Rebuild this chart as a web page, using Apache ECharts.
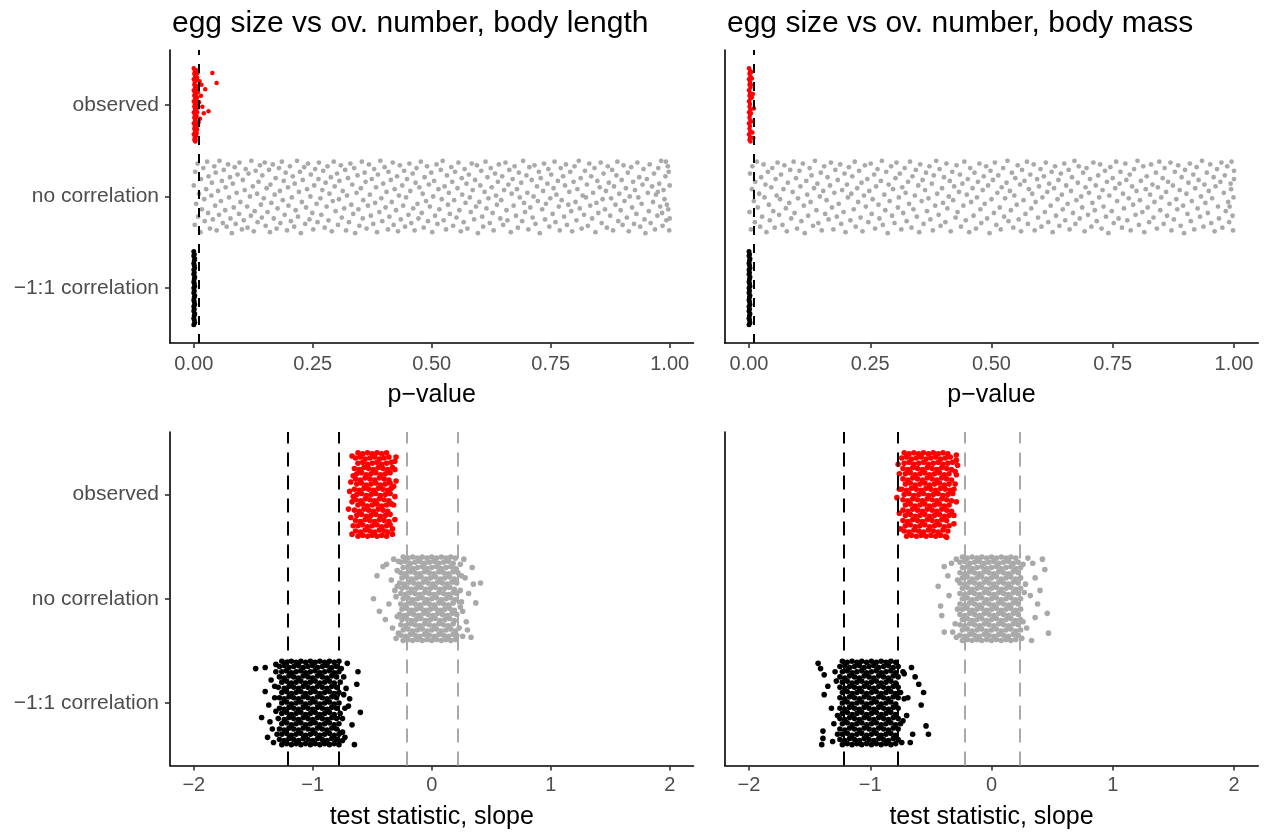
<!DOCTYPE html>
<html><head><meta charset="utf-8">
<script src="https://cdn.jsdelivr.net/npm/echarts@6/dist/echarts.min.js"></script>
<style>html,body{margin:0;padding:0;background:#fff}#c{width:1265px;height:833px}</style>
</head><body><div id="c"></div>
<script>
// ---- categories / ticks / reference lines ----
const yCats = {1: '\u22121:1 correlation', 2: 'no correlation', 3: 'observed'};
const catObs = 3, catNull = 2, catNeg = 1;
const pTicks = [0, 0.25, 0.5, 0.75, 1];
const slopeTicks = [-2, -1, 0, 1, 2];
const pThreshold = 0.0125;
const lenNullCrit = [-0.214, 0.220];
const lenNegCrit = [-1.211, -0.779];
const massNullCrit = [-0.224, 0.229];
const massNegCrit = [-1.222, -0.769];
const titles = ['egg size vs ov. number, body length', 'egg size vs ov. number, body mass'];

// ---- data: pairs [value, jitter]; p-values in thousandths, slopes & jitter in hundredths ----
const lenPObs = [0,40,2,37,1,34,3,31,0,28,2,25,1,22,3,19,0,16,2,13,1,10,3,7,0,4,2,1,1,-2,3,-5,0,-8,2,-11,1,-14,3,-17,0,-20,2,-23,1,-26,3,-29,0,-32,2,-35,1,-38,3,-40,
5,38,7,30,6,21,9,14,5,6,8,-3,6,-12,10,-19,7,-27,5,-34,12,26,11,3,9,-22,13,-15,15,10,8,35,18,-2,39,35,48,24,31,-7,24,17,21,-9,16,22,
4,33,6,27,4,18,7,8,5,-1,4,-15,6,-24,4,-38,7,-8,5,12,6,-31,3,20,5,29,4,-6,6,2,5,-20,4,-28,7,16];
const lenPNeg = [0,40,1,37,0,35,2,32,1,30,0,27,1,25,2,22,0,20,1,17,0,15,2,12,1,10,0,7,1,5,2,2,0,0,1,-3,0,-5,2,-8,1,-10,0,-13,1,-15,2,-18,0,-20,1,-23,0,-25,2,-28,1,-30,0,-33,1,-35,2,-38,0,-40];
const lenPNull = [0,12,2,-31,3,27,5,-8,8,36,9,-22,11,3,14,-39,15,19,17,-14,
20,31,22,-3,23,-27,26,8,28,38,30,-18,31,22,34,-35,37,1,38,15,
40,-25,43,33,45,-10,46,26,48,-37,51,6,53,-20,54,39,57,-5,59,17,
61,-29,63,29,66,-15,67,10,69,-33,72,35,74,-1,76,21,77,-24,80,-40,
82,14,84,-12,86,32,88,-30,90,4,92,24,95,-19,96,37,98,-6,101,-36,
103,18,105,-26,107,7,109,30,112,-11,113,-34,115,25,118,0,120,-21,121,39,
124,11,126,-38,128,-16,130,28,133,3,134,-28,136,16,139,34,141,-9,143,-23,
144,23,147,-2,149,37,151,-32,153,9,155,-17,158,29,160,-39,161,13,163,-7,
166,35,168,-24,170,2,172,20,174,-35,176,-13,179,31,181,6,182,-29,185,38,
187,-4,189,17,191,-20,193,26,196,-37,198,10,199,-10,202,33,204,-27,206,-1,
208,22,211,-33,212,14,214,-15,217,39,219,-22,221,5,223,27,225,-40,227,-6,
229,18,232,32,234,-30,236,-12,238,8,240,36,243,-25,245,0,246,24,249,-18,
251,-36,253,12,255,30,258,-8,260,-28,262,19,263,37,266,-2,268,-20,270,7,
272,28,275,-34,277,15,279,-11,281,33,283,-26,285,3,288,21,290,-38,292,-5,
294,38,296,11,298,-16,301,25,303,-31,305,-3,306,17,309,34,311,-23,313,6,
316,-13,318,29,320,-37,322,1,324,20,326,-28,329,36,331,-9,333,13,335,-19,
337,31,339,-40,342,4,344,23,346,-14,348,-32,351,9,353,38,355,-24,356,-4,
359,26,361,16,363,-35,366,-10,368,35,370,2,372,-21,374,19,377,-30,379,30,
381,-7,383,10,385,-39,387,24,390,-17,392,39,394,-2,396,-27,398,14,401,32,
403,-12,405,5,408,-36,409,27,411,-22,414,18,416,-6,418,37,420,-31,422,8,
425,-15,427,22,429,-38,431,1,433,34,435,-25,438,12,440,-10,442,28,444,-33,
446,-1,448,19,451,-20,453,36,455,6,457,-29,460,25,461,-13,464,-37,466,15,
468,31,470,-8,472,-24,474,10,477,38,479,-18,481,3,483,-34,485,21,488,-5,
490,33,492,-27,494,13,496,-11,499,26,501,-39,503,0,505,17,507,-21,510,35,
512,-30,514,8,516,-14,519,29,521,-3,523,39,525,-26,527,11,530,-36,532,23,
534,-9,536,4,538,-19,541,32,543,16,545,-32,547,-4,549,27,552,-23,554,9,
556,37,558,-15,561,-38,563,20,564,2,567,-28,569,30,571,-7,573,14,575,-35,
578,24,580,-1,582,-17,584,36,586,7,589,-25,591,18,593,-11,595,34,597,-40,
600,-6,602,12,604,28,606,-22,608,-33,611,5,613,38,615,-13,617,21,619,-2,
622,-29,624,31,626,10,628,-18,630,-37,633,25,635,1,637,-9,639,16,641,35,
644,-24,646,-4,648,22,650,-31,652,7,655,37,657,-15,659,-26,661,13,663,29,
666,-39,668,3,670,19,672,-10,674,33,677,-21,679,8,681,-34,683,26,685,-1,
688,15,690,-27,692,39,694,-7,696,-17,699,23,701,4,703,-36,705,32,707,-12,
710,18,712,-23,714,0,716,34,718,-30,721,11,723,-5,725,27,727,-40,729,20,
732,-14,734,6,736,36,738,-25,740,-8,743,14,745,30,747,-33,749,-2,751,24,
754,-19,756,9,758,38,760,-28,762,2,765,17,767,-11,769,-37,771,31,773,-4,
776,22,778,-22,780,12,782,35,784,-31,787,-9,789,5,791,27,793,-16,795,-38,
798,16,800,33,802,-6,804,-26,806,8,809,39,811,-13,813,20,815,-35,817,1,
820,-20,822,28,824,-1,826,13,828,-32,831,36,833,-10,835,22,837,-24,839,4,
842,31,844,-39,846,-7,848,17,850,-18,853,10,855,37,857,-29,859,-3,861,25,
864,-14,866,6,868,-34,870,33,872,15,875,-21,877,-2,879,29,881,-37,883,11,
886,-9,888,23,890,38,892,-27,894,3,897,-15,899,18,901,-31,903,34,905,-5,
908,9,910,-23,912,26,914,-38,916,0,919,32,921,-12,923,16,925,-30,927,7,
930,-19,932,37,934,-1,936,21,938,-33,941,-8,943,13,945,30,947,-25,949,-40,
952,19,954,4,956,-16,958,35,960,-29,963,11,965,-6,967,25,969,-36,971,2,
974,-21,976,31,978,14,980,-11,982,39,985,-32,987,7,989,-3,991,22,993,-26,
996,33,997,-14,999,-37,1000,12,998,27,994,-9,1000,-24,992,38,984,-18,975,5];

const massPObs = [0,40,2,37,1,34,3,31,0,28,2,25,1,22,3,19,0,16,2,13,1,10,3,7,0,4,2,1,1,-2,3,-5,0,-8,2,-11,1,-14,3,-17,0,-20,2,-23,1,-26,3,-29,0,-32,2,-35,1,-38,3,-40,
5,36,4,22,6,8,10,-4,5,-18,9,-36,7,-30,4,-9,6,29,8,12];
const massPNeg = [0,40,1,37,0,35,2,32,1,30,0,27,1,25,2,22,0,20,1,17,0,15,2,12,1,10,0,7,1,5,2,2,0,0,1,-3,0,-5,2,-8,1,-10,0,-13,1,-15,2,-18,0,-20,1,-23,0,-25,2,-28,1,-30,0,-33,1,-35,2,-38,0,-40];
const massPNull = [1,-17,2,25,4,-36,6,8,7,33,10,-5,12,-28,13,16,16,38,18,-12,
21,3,23,-33,25,21,27,-22,30,35,32,-1,34,13,36,-39,39,27,41,-9,
43,-26,46,10,48,31,50,-16,53,-34,55,19,57,1,59,37,62,-20,64,-3,
66,24,69,-31,71,8,73,34,76,-13,78,-38,80,15,83,-7,85,29,87,-24,
90,5,92,38,94,-18,97,20,99,-35,101,-2,104,28,106,11,108,-27,111,36,
113,-10,115,-40,118,17,120,2,122,-21,125,31,127,-6,129,23,132,-32,134,9,
136,39,139,-15,141,14,143,-29,146,0,148,26,150,-37,153,6,155,33,157,-19,
160,-4,162,21,164,-25,167,12,169,37,171,-12,174,-36,176,4,178,29,181,-22,
183,18,185,-8,188,35,190,-30,192,7,195,-17,197,25,199,-39,202,13,204,-1,
206,32,209,-26,211,3,213,22,216,-14,218,38,220,-33,223,9,225,-6,227,28,
230,-23,232,15,234,-38,237,1,239,34,241,-11,244,19,246,-28,248,6,251,36,
253,-19,255,-3,258,24,260,-35,262,11,265,30,267,-9,269,-24,272,17,274,39,
276,-31,279,2,281,-15,283,27,286,-40,288,13,290,-5,293,33,295,-21,297,8,
300,-29,302,20,304,37,307,-12,309,-1,311,25,314,-36,316,10,318,-18,321,31,
323,4,325,-27,328,16,330,-8,332,38,335,-34,337,22,339,-14,342,1,344,29,
346,-22,349,12,351,-39,353,35,356,-5,358,18,360,-30,363,7,365,26,367,-16,
370,-2,372,33,374,-25,377,14,379,-37,381,23,384,-10,386,39,388,3,391,-20,
393,30,395,-32,398,9,400,-7,402,21,405,-28,407,36,409,-13,412,0,414,17,
416,-38,419,27,421,-4,423,11,426,-23,428,34,430,-17,433,5,435,24,437,-33,
440,14,442,-10,444,38,447,-26,449,2,451,19,454,-39,456,31,458,-6,461,9,
463,-21,465,26,468,-35,470,-1,472,16,475,36,477,-14,479,-29,482,7,484,22,
486,-8,489,33,491,-24,493,12,496,-40,498,28,500,-3,503,18,505,-18,507,37,
510,-31,512,4,514,23,517,-12,519,-36,521,10,524,31,526,-22,528,-2,531,15,
533,39,535,-27,538,6,540,-15,542,26,545,-34,547,1,549,20,552,-9,554,34,
556,-25,559,13,561,-38,563,29,566,-4,568,17,570,-19,573,38,575,-30,577,8,
580,24,582,-13,584,3,587,35,589,-37,591,-6,594,19,596,-23,598,11,601,30,
603,-33,605,-1,608,22,610,-17,612,37,615,5,617,-28,619,14,622,-10,624,27,
626,-39,629,9,631,33,633,-21,636,-3,638,18,640,-32,643,25,645,2,647,-14,
650,36,652,-26,654,12,657,-8,659,29,661,-36,664,6,666,21,668,-18,671,39,
673,-30,675,-4,678,15,680,33,682,-24,685,0,687,-12,689,26,692,-38,694,10,
696,31,699,-20,701,4,703,19,706,-33,708,-7,710,37,713,-15,715,12,717,-27,
720,23,722,-1,724,35,727,-35,729,7,731,-11,734,28,736,-22,738,16,741,-40,
743,1,745,32,748,-16,750,20,752,-29,755,9,757,38,759,-5,762,-24,764,14,
766,27,769,-34,771,3,773,-13,776,36,778,18,780,-26,783,-2,785,24,787,-37,
790,11,792,-9,794,30,797,-20,799,6,801,39,804,-31,806,-4,808,17,811,-17,
813,33,815,-39,818,8,820,22,822,-12,825,-28,827,2,829,35,832,13,834,-23,
836,-6,839,26,841,-35,843,10,846,38,848,-15,850,-1,853,20,855,-30,857,31,
860,5,862,-21,864,16,867,-8,869,37,871,-37,874,12,876,-25,878,27,881,-3,
883,-14,885,34,888,7,890,-32,892,21,895,-10,897,-40,899,29,902,3,904,-19,
906,15,909,36,911,-27,913,-5,916,24,918,-36,920,9,923,32,925,-13,927,18,
930,-22,932,0,934,39,937,-33,939,13,941,-7,944,26,946,-18,948,6,951,35,
953,-29,955,-2,958,21,960,-38,962,11,965,30,967,-11,969,-24,972,16,974,37,
976,-34,979,4,981,23,983,-16,986,33,988,-6,990,-28,993,14,995,38,997,-21,
999,-1,1000,28,998,-37,994,8,1000,19,991,-11];

const lenSObs = [-62,40,-58,39,-54,40,-50,39,-46,40,-42,39,-38,40,
-64,35,-60,36,-56,34,-52,35,-48,36,-44,34,-40,35,-36,36,
-62,30,-58,31,-54,29,-50,30,-46,31,-42,29,-38,30,-34,31,
-65,25,-61,24,-57,26,-53,25,-49,24,-45,26,-41,25,-37,24,-33,26,
-63,20,-59,21,-55,19,-51,20,-47,21,-43,19,-39,20,-35,21,
-64,15,-60,14,-56,16,-52,15,-48,14,-44,16,-40,15,-36,14,
-63,10,-59,11,-55,9,-51,10,-47,11,-43,9,-39,10,-35,11,
-65,5,-61,4,-57,6,-53,5,-49,4,-45,6,-41,5,-37,4,-34,6,
-63,0,-59,1,-55,-1,-51,0,-47,1,-43,-1,-39,0,-35,1,
-64,-5,-60,-6,-56,-4,-52,-5,-48,-6,-44,-4,-40,-5,-36,-6,
-62,-10,-58,-9,-54,-11,-50,-10,-46,-9,-42,-11,-38,-10,-34,-9,
-65,-15,-61,-16,-57,-14,-53,-15,-49,-16,-45,-14,-41,-15,-37,-16,
-63,-20,-59,-19,-55,-21,-51,-20,-47,-19,-43,-21,-39,-20,-35,-19,
-64,-25,-60,-26,-56,-24,-52,-25,-48,-26,-44,-24,-40,-25,-36,-26,
-62,-30,-58,-29,-54,-31,-50,-30,-46,-29,-42,-31,-38,-30,-35,-29,
-64,-35,-60,-36,-56,-34,-52,-35,-48,-36,-44,-34,-40,-35,-37,-36,
-62,-40,-58,-39,-54,-40,-50,-39,-46,-40,-42,-39,-38,-40,
-70,-14,-69,3,-67,-7,-68,12,-66,-30,-31,24,-30,13,-32,-10,-31,32,-33,-33,
-67,37,-68,-22,-66,18,-67,-38,-31,-2,-31,-24,-30,36,-32,8,-66,-2,-33,-38];
const lenSNull = [-24,40,-20,39,-16,40,-12,39,-8,40,-4,39,0,40,4,39,8,40,12,39,16,40,20,39,
-26,35,-22,36,-18,34,-14,35,-10,36,-6,34,-2,35,2,36,6,34,10,35,14,36,18,34,
-24,30,-20,31,-16,29,-12,30,-8,31,-4,29,0,30,4,31,8,29,12,30,16,31,20,29,
-26,25,-22,24,-18,26,-14,25,-10,24,-6,26,-2,25,2,24,6,26,10,25,14,24,18,26,22,25,
-25,20,-21,21,-17,19,-13,20,-9,21,-5,19,-1,20,3,21,7,19,11,20,15,21,19,19,
-27,15,-23,14,-19,16,-15,15,-11,14,-7,16,-3,15,1,14,5,16,9,15,13,14,17,16,21,15,
-25,10,-21,11,-17,9,-13,10,-9,11,-5,9,-1,10,3,11,7,9,11,10,15,11,19,9,
-26,5,-22,4,-18,6,-14,5,-10,4,-6,6,-2,5,2,4,6,6,10,5,14,4,18,6,21,5,
-24,0,-20,1,-16,-1,-12,0,-8,1,-4,-1,0,0,4,1,8,-1,12,0,16,1,20,-1,
-26,-5,-22,-6,-18,-4,-14,-5,-10,-6,-6,-4,-2,-5,2,-6,6,-4,10,-5,14,-6,18,-4,
-25,-10,-21,-9,-17,-11,-13,-10,-9,-9,-5,-11,-1,-10,3,-9,7,-11,11,-10,15,-9,19,-11,
-27,-15,-23,-16,-19,-14,-15,-15,-11,-16,-7,-14,-3,-15,1,-16,5,-14,9,-15,13,-16,17,-14,21,-15,
-25,-20,-21,-19,-17,-21,-13,-20,-9,-19,-5,-21,-1,-20,3,-19,7,-21,11,-20,15,-19,19,-21,
-26,-25,-22,-26,-18,-24,-14,-25,-10,-26,-6,-24,-2,-25,2,-26,6,-24,10,-25,14,-26,18,-24,
-24,-30,-20,-29,-16,-31,-12,-30,-8,-29,-4,-31,0,-30,4,-29,8,-31,12,-30,16,-29,20,-31,
-26,-35,-22,-36,-18,-34,-14,-35,-10,-36,-6,-34,-2,-35,2,-36,6,-34,10,-35,14,-36,18,-34,21,-35,
-24,-40,-20,-39,-16,-40,-12,-39,-8,-40,-4,-39,0,-40,4,-39,8,-40,12,-39,16,-40,20,-39,
-49,0,-46,22,-41,31,-38,33,-36,-5,-34,18,-33,-28,-31,8,-30,-38,-29,27,-44,-12,-39,-20,-32,38,
24,33,26,-12,28,20,30,-30,31,5,33,-37,35,14,37,-4,41,15,27,38,29,-22,25,-3,34,30,
-29,12,-28,-33,-30,2,-29,-17,24,-8,23,-28,25,22,24,8,26,-36,-28,36];
const lenSNeg = [-126,40,-122,39,-118,40,-114,39,-110,40,-106,39,-102,40,-98,39,-94,40,-90,39,-86,40,-82,39,-78,40,
-128,35,-124,36,-120,34,-116,35,-112,36,-108,34,-104,35,-100,36,-96,34,-92,35,-88,36,-84,34,-80,35,
-126,30,-122,31,-118,29,-114,30,-110,31,-106,29,-102,30,-98,31,-94,29,-90,30,-86,31,-82,29,-78,30,
-128,25,-124,24,-120,26,-116,25,-112,24,-108,26,-104,25,-100,24,-96,26,-92,25,-88,24,-84,26,-80,25,
-126,20,-122,21,-118,19,-114,20,-110,21,-106,19,-102,20,-98,21,-94,19,-90,20,-86,21,-82,19,-77,20,
-129,15,-124,14,-120,16,-116,15,-112,14,-108,16,-104,15,-100,14,-96,16,-92,15,-88,14,-84,16,-80,15,
-126,10,-122,11,-118,9,-114,10,-110,11,-106,9,-102,10,-98,11,-94,9,-90,10,-86,11,-82,9,-78,10,
-128,5,-124,4,-120,6,-116,5,-112,4,-108,6,-104,5,-100,4,-96,6,-92,5,-88,4,-84,6,-80,5,
-126,0,-122,1,-118,-1,-114,0,-110,1,-106,-1,-102,0,-98,1,-94,-1,-90,0,-86,1,-82,-1,-78,0,
-128,-5,-124,-6,-120,-4,-116,-5,-112,-6,-108,-4,-104,-5,-100,-6,-96,-4,-92,-5,-88,-6,-84,-4,-80,-5,
-126,-10,-122,-9,-118,-11,-114,-10,-110,-9,-106,-11,-102,-10,-98,-9,-94,-11,-90,-10,-86,-9,-82,-11,-77,-10,
-129,-15,-124,-16,-120,-14,-116,-15,-112,-16,-108,-14,-104,-15,-100,-16,-96,-14,-92,-15,-88,-16,-84,-14,-80,-15,
-126,-20,-122,-19,-118,-21,-114,-20,-110,-19,-106,-21,-102,-20,-98,-19,-94,-21,-90,-20,-86,-19,-82,-21,-78,-20,
-128,-25,-124,-26,-120,-24,-116,-25,-112,-26,-108,-24,-104,-25,-100,-26,-96,-24,-92,-25,-88,-26,-84,-24,-80,-25,
-126,-30,-122,-29,-118,-31,-114,-30,-110,-29,-106,-31,-102,-30,-98,-29,-94,-31,-90,-30,-86,-29,-82,-31,-78,-30,
-128,-35,-124,-36,-120,-34,-116,-35,-112,-36,-108,-34,-104,-35,-100,-36,-96,-34,-92,-35,-88,-36,-84,-34,-80,-35,
-126,-40,-122,-39,-118,-40,-114,-39,-110,-40,-106,-39,-102,-40,-98,-39,-94,-40,-90,-39,-86,-40,-82,-39,-78,-40,
-148,33,-140,34,-140,11,-137,-2,-135,22,-134,-25,-138,-33,-132,5,-133,-38,-131,30,-143,-14,-136,-18,
-71,38,-62,30,-60,-9,-65,-40,-67,-21,-72,14,-70,-3,-74,25,-73,-33,-69,4,-75,-28,-63,18,
-131,-8,-132,16,-130,-30,-131,37,-75,-15,-74,8,-76,33,-75,-36,-73,-5];

const massSObs = [-72,40,-68,39,-64,40,-60,39,-56,40,-52,39,-48,40,-44,39,-40,40,-36,39,
-74,35,-70,36,-66,34,-62,35,-58,36,-54,34,-50,35,-46,36,-42,34,-38,35,-34,36,
-72,30,-68,31,-64,29,-60,30,-56,31,-52,29,-48,30,-44,31,-40,29,-36,30,-32,31,
-73,25,-69,24,-65,26,-61,25,-57,24,-53,26,-49,25,-45,24,-41,26,-37,25,-33,24,
-71,20,-67,21,-63,19,-59,20,-55,21,-51,19,-47,20,-43,21,-39,19,-35,20,
-73,15,-69,14,-65,16,-61,15,-57,14,-53,16,-49,15,-45,14,-41,16,-37,15,-33,14,
-71,10,-67,11,-63,9,-59,10,-55,11,-51,9,-47,10,-43,11,-39,9,-35,10,
-74,5,-70,4,-66,6,-62,5,-58,4,-54,6,-50,5,-46,4,-42,6,-38,5,-34,4,
-72,0,-68,1,-64,-1,-60,0,-56,1,-52,-1,-48,0,-44,1,-40,-1,-36,0,-32,1,
-73,-5,-69,-6,-65,-4,-61,-5,-57,-6,-53,-4,-49,-5,-45,-6,-41,-4,-37,-5,-33,-6,
-71,-10,-67,-9,-63,-11,-59,-10,-55,-9,-51,-11,-47,-10,-43,-9,-39,-11,-35,-10,
-73,-15,-69,-16,-65,-14,-61,-15,-57,-16,-53,-14,-49,-15,-45,-16,-41,-14,-37,-15,-33,-16,
-71,-20,-67,-19,-63,-21,-59,-20,-55,-19,-51,-21,-47,-20,-43,-19,-39,-21,-35,-20,
-73,-25,-69,-26,-65,-24,-61,-25,-57,-26,-53,-24,-49,-25,-45,-26,-41,-24,-37,-25,
-71,-30,-67,-29,-63,-31,-59,-30,-55,-29,-51,-31,-47,-30,-43,-29,-39,-31,-35,-30,
-72,-35,-68,-36,-64,-34,-60,-35,-56,-36,-52,-34,-48,-35,-44,-36,-40,-34,-36,-35,
-70,-40,-66,-39,-62,-40,-58,-39,-54,-40,-50,-39,-46,-40,-42,-39,-38,-40,
-77,29,-76,5,-78,-3,-29,38,-28,28,-29,19,-29,-7,-30,10,-31,-28,-37,-41,-29,33,
-76,-18,-76,20,-75,-33,-31,-20,-31,5,-30,22];
const massSNull = [-24,40,-20,39,-16,40,-12,39,-8,40,-4,39,0,40,4,39,8,40,12,39,16,40,20,39,
-26,35,-22,36,-18,34,-14,35,-10,36,-6,34,-2,35,2,36,6,34,10,35,14,36,18,34,22,35,
-24,30,-20,31,-16,29,-12,30,-8,31,-4,29,0,30,4,31,8,29,12,30,16,31,20,29,24,30,
-26,25,-22,24,-18,26,-14,25,-10,24,-6,26,-2,25,2,24,6,26,10,25,14,24,18,26,22,25,
-24,20,-20,21,-16,19,-12,20,-8,21,-4,19,0,20,4,21,8,19,12,20,16,21,20,19,24,20,
-26,15,-22,14,-18,16,-14,15,-10,14,-6,16,-2,15,2,14,6,16,10,15,14,14,18,16,22,15,
-24,10,-20,11,-16,9,-12,10,-8,11,-4,9,0,10,4,11,8,9,12,10,16,11,20,9,24,10,
-26,5,-22,4,-18,6,-14,5,-10,4,-6,6,-2,5,2,4,6,6,10,5,14,4,18,6,22,5,
-24,0,-20,1,-16,-1,-12,0,-8,1,-4,-1,0,0,4,1,8,-1,12,0,16,1,20,-1,24,0,
-26,-5,-22,-6,-18,-4,-14,-5,-10,-6,-6,-4,-2,-5,2,-6,6,-4,10,-5,14,-6,18,-4,22,-5,
-24,-10,-20,-9,-16,-11,-12,-10,-8,-9,-4,-11,0,-10,4,-9,8,-11,12,-10,16,-9,20,-11,24,-10,
-26,-15,-22,-16,-18,-14,-14,-15,-10,-16,-6,-14,-2,-15,2,-16,6,-14,10,-15,14,-16,18,-14,22,-15,
-24,-20,-20,-19,-16,-21,-12,-20,-8,-19,-4,-21,0,-20,4,-19,8,-21,12,-20,16,-19,20,-21,24,-20,
-26,-25,-22,-26,-18,-24,-14,-25,-10,-26,-6,-24,-2,-25,2,-26,6,-24,10,-25,14,-26,18,-24,22,-25,
-24,-30,-20,-29,-16,-31,-12,-30,-8,-29,-4,-31,0,-30,4,-29,8,-31,12,-30,16,-29,20,-31,24,-30,
-26,-35,-22,-36,-18,-34,-14,-35,-10,-36,-6,-34,-2,-35,2,-36,6,-34,10,-35,14,-36,18,-34,22,-35,
-24,-40,-20,-39,-16,-40,-12,-39,-8,-40,-4,-39,0,-40,4,-39,8,-40,12,-39,16,-40,20,-39,
-39,31,-33,34,-42,-7,-41,-16,-39,-32,-32,-32,-44,12,-36,22,-30,-24,-35,3,-29,38,
30,39,34,34,44,28,36,20,32,3,46,-14,36,-18,47,-33,33,-40,29,-28,40,8,28,14,38,-5,42,38,
-28,-10,-28,18,-29,-37,26,-22,27,6,26,33,25,-38];
const massSNeg = [-123,40,-119,39,-115,40,-111,39,-107,40,-103,39,-99,40,-95,39,-91,40,-87,39,-83,40,-79,39,
-125,35,-121,36,-117,34,-113,35,-109,36,-105,34,-101,35,-97,36,-93,34,-89,35,-85,36,-81,34,-77,35,
-123,30,-119,31,-115,29,-111,30,-107,31,-103,29,-99,30,-95,31,-91,29,-87,30,-83,31,-79,29,
-125,25,-121,24,-117,26,-113,25,-109,24,-105,26,-101,25,-97,24,-93,26,-89,25,-85,24,-81,26,-77,25,
-123,20,-119,21,-115,19,-111,20,-107,21,-103,19,-99,20,-95,21,-91,19,-87,20,-83,21,-79,19,
-125,15,-121,14,-117,16,-113,15,-109,14,-105,16,-101,15,-97,14,-93,16,-89,15,-85,14,-81,16,-77,15,
-123,10,-119,11,-115,9,-111,10,-107,11,-103,9,-99,10,-95,11,-91,9,-87,10,-83,11,-79,9,-75,10,
-125,5,-121,4,-117,6,-113,5,-109,4,-105,6,-101,5,-97,4,-93,6,-89,5,-85,4,-81,6,-77,5,
-123,0,-119,1,-115,-1,-111,0,-107,1,-103,-1,-99,0,-95,1,-91,-1,-87,0,-83,1,-79,-1,
-125,-5,-121,-6,-117,-4,-113,-5,-109,-6,-105,-4,-101,-5,-97,-6,-93,-4,-89,-5,-85,-6,-81,-4,-77,-5,
-123,-10,-119,-9,-115,-11,-111,-10,-107,-9,-103,-11,-99,-10,-95,-9,-91,-11,-87,-10,-83,-9,-79,-11,
-125,-15,-121,-16,-117,-14,-113,-15,-109,-16,-105,-14,-101,-15,-97,-16,-93,-14,-89,-15,-85,-16,-81,-14,-77,-15,
-123,-20,-119,-19,-115,-21,-111,-20,-107,-19,-103,-21,-99,-20,-95,-19,-91,-21,-87,-20,-83,-19,-79,-21,-75,-20,
-125,-25,-121,-26,-117,-24,-113,-25,-109,-26,-105,-24,-101,-25,-97,-26,-93,-24,-89,-25,-85,-26,-81,-24,-77,-25,
-123,-30,-119,-29,-115,-31,-111,-30,-107,-29,-103,-31,-99,-30,-95,-29,-91,-31,-87,-30,-83,-29,-79,-31,
-125,-35,-121,-36,-117,-34,-113,-35,-109,-36,-105,-34,-101,-35,-97,-36,-93,-34,-89,-35,-85,-36,-81,-34,-77,-35,
-123,-40,-119,-39,-115,-40,-111,-39,-107,-40,-103,-39,-99,-40,-95,-39,-91,-40,-87,-39,-83,-40,-79,-39,
-143,38,-141,33,-138,27,-135,16,-138,8,-132,-5,-139,-27,-139,-34,-140,-40,-131,-37,-129,30,-130,-20,
-66,34,-63,25,-56,10,-54,-22,-52,-30,-65,-30,-67,-38,-60,18,-70,-12,-58,-2,-72,28,-69,5,
-127,-12,-128,21,-127,-30,-73,-17,-73,30,-74,-38,-72,4];

// ---- build ----
function pts(arr, scale, cat) {
  const out = [];
  for (let i = 0; i < arr.length; i += 2) out.push([arr[i] / scale, cat + arr[i + 1] / 100]);
  return out;
}
const FONT = '"Liberation Sans", Arial, Helvetica, sans-serif';
const RED = '#FF0000', GREY = '#A9A9A9', BLACK = '#000000';
const grids = [
  {left: 170, top: 50, width: 523.5, height: 293},
  {left: 724.75, top: 50, width: 533.5, height: 293},
  {left: 170, top: 432, width: 523.5, height: 333.5},
  {left: 724.75, top: 432, width: 533.5, height: 333.5}
];
const minus = s => String(s).replace('-', '\u2212');
function xAx(i, isP) {
  return {
    gridIndex: i, type: 'value',
    min: isP ? -0.05 : -2.2, max: isP ? 1.05 : 2.2,
    name: isP ? 'p\u2212value' : 'test statistic, slope',
    nameLocation: 'middle', nameGap: isP ? 40 : 39,
    nameTextStyle: {fontFamily: FONT, fontSize: 25, color: '#000'},
    axisLine: {show: true, onZero: false, lineStyle: {color: '#000', width: 1.6}},
    axisTick: {show: true, length: 5, customValues: isP ? pTicks : slopeTicks, lineStyle: {color: '#333', width: 1.6}},
    axisLabel: {show: true, customValues: isP ? pTicks : slopeTicks, margin: isP ? 11 : 10, fontFamily: FONT, fontSize: 20, color: '#4D4D4D',
      formatter: v => isP ? Number(v).toFixed(2) : minus(v)},
    splitLine: {show: false}
  };
}
function yAx(i, withLabels) {
  return {
    gridIndex: i, type: 'value', min: 0.4, max: 3.6,
    axisLine: {show: true, onZero: false, lineStyle: {color: '#000', width: 1.6}},
    axisTick: {show: withLabels, length: 5, customValues: [1, 2, 3], lineStyle: {color: '#333', width: 1.6}},
    axisLabel: {show: withLabels, customValues: [1, 2, 3], margin: 11, fontFamily: FONT, fontSize: 21, color: '#4D4D4D',
      formatter: v => yCats[Math.round(v)] || ''},
    splitLine: {show: false}
  };
}
function sc(i, data, color, size) {
  return {type: 'scatter', xAxisIndex: i, yAxisIndex: i, data: data, symbol: 'circle', symbolSize: size,
    itemStyle: {color: color, opacity: 1}, silent: true, z: 2};
}
function lines(i, items, dash) {
  return {type: 'scatter', xAxisIndex: i, yAxisIndex: i, data: [], z: 5, silent: true,
    markLine: {silent: true, symbol: ['none', 'none'], label: {show: false}, animation: false,
      data: items.map(([v, c]) => ({xAxis: v, lineStyle: {color: c, width: 2, type: dash}}))}};
}
const pDash = [9, 9], sDash = [14, 9];
const option = {
  animation: false,
  backgroundColor: '#fff',
  title: [
    {text: titles[0], left: 167, top: 4, textStyle: {fontFamily: FONT, fontSize: 30, fontWeight: 'normal', color: '#000'}},
    {text: titles[1], left: 722, top: 4, textStyle: {fontFamily: FONT, fontSize: 30, fontWeight: 'normal', color: '#000'}}
  ],
  grid: grids,
  xAxis: [xAx(0, true), xAx(1, true), xAx(2, false), xAx(3, false)],
  yAxis: [yAx(0, true), yAx(1, false), yAx(2, true), yAx(3, false)],
  series: [
    sc(0, pts(lenPNull, 1000, catNull), GREY, 4.8),
    sc(0, pts(lenPObs, 1000, catObs), RED, 4.5),
    sc(0, pts(lenPNeg, 1000, catNeg), BLACK, 5),
    lines(0, [[pThreshold, BLACK]], pDash),
    sc(1, pts(massPNull, 1000, catNull), GREY, 4.8),
    sc(1, pts(massPObs, 1000, catObs), RED, 4.5),
    sc(1, pts(massPNeg, 1000, catNeg), BLACK, 5),
    lines(1, [[pThreshold, BLACK]], pDash),
    sc(2, pts(lenSObs, 100, catObs), RED, 5.6),
    sc(2, pts(lenSNull, 100, catNull), GREY, 5.6),
    sc(2, pts(lenSNeg, 100, catNeg), BLACK, 5.6),
    lines(2, [[lenNegCrit[0], BLACK], [lenNegCrit[1], BLACK], [lenNullCrit[0], GREY], [lenNullCrit[1], GREY]], sDash),
    sc(3, pts(massSObs, 100, catObs), RED, 5.6),
    sc(3, pts(massSNull, 100, catNull), GREY, 5.6),
    sc(3, pts(massSNeg, 100, catNeg), BLACK, 5.6),
    lines(3, [[massNegCrit[0], BLACK], [massNegCrit[1], BLACK], [massNullCrit[0], GREY], [massNullCrit[1], GREY]], sDash)
  ]
};
const chart = echarts.init(document.getElementById('c'), null, {renderer: 'canvas'});
chart.setOption(option);
</script>
</body></html>
